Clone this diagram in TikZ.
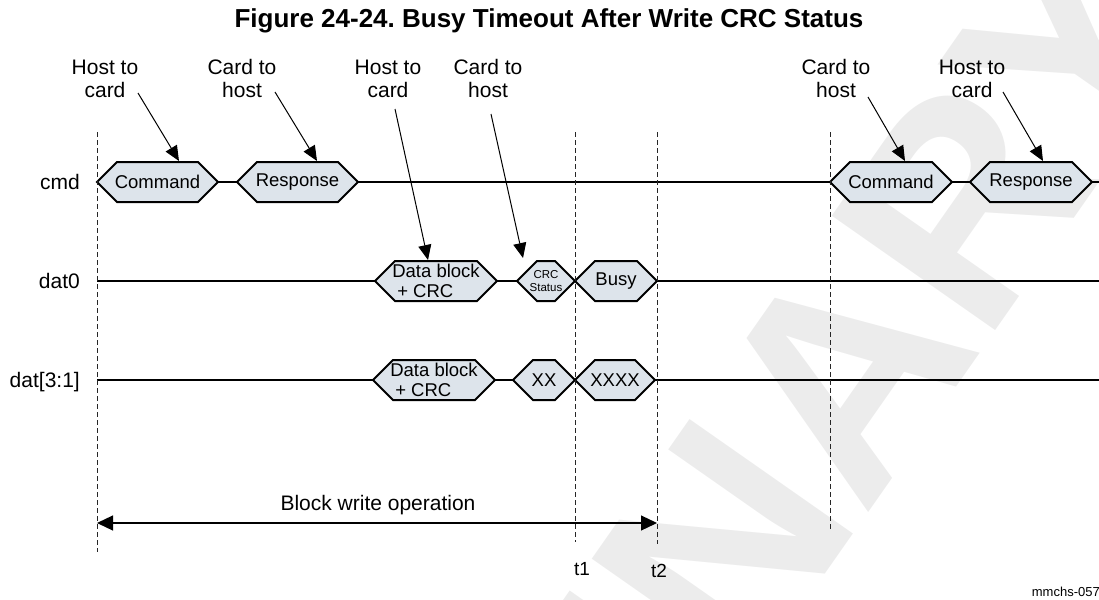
\documentclass[tikz,border=0pt]{standalone}
\usepackage{fontspec}
\setmainfont{Liberation Sans}
\usetikzlibrary{arrows.meta}
\definecolor{hexfill}{RGB}{221,228,235}
\definecolor{wmark}{RGB}{236,236,236}
\newcommand{\fsz}[2]{\fontsize{#1}{#2}\selectfont}
\newcommand{\hexbox}[6]{%
  \filldraw[hexst] (#2,#4) -- (#2+20,#4-20) -- (#3-20,#4-20) -- (#3,#4) -- (#3-20,#4+20) -- (#2+20,#4+20) -- cycle;
  \coordinate (#1-w) at (#2,#4);
  \coordinate (#1-e) at (#3,#4);
  \node[#5] (#1) at ({(#2+#3)/2},#4) {#6};
}
\frenchspacing
\begin{document}
\begin{tikzpicture}[x=1pt,y=-1pt,
  sig/.style={line width=2pt},
  hexst/.style={draw=black, line width=2pt, fill=hexfill, line join=miter},
  boxtxt/.style={font=\fsz{18.5}{20}, inner sep=0pt},
  boxtxtl/.style={font=\fsz{18.5}{20}, inner sep=0pt, align=left},
  smalltxt/.style={font=\fsz{11.5}{13}, inner sep=0pt, align=center},
  lbl/.style={font=\fsz{21}{23}, align=center, inner sep=0pt},
  rowlbl/.style={font=\fsz{21}{23}, inner sep=0pt, anchor=base east},
  ptr/.style={line width=1pt, -{Triangle[length=15pt,width=13pt]}},
  vdash/.style={line width=1pt, dash pattern=on 5pt off 3pt, black!85},
  spanarrow/.style={line width=1.2pt, {Triangle[length=16pt,width=15pt]}-{Triangle[length=16pt,width=15pt]}},
  wm/.style={font=\bfseries\fsz{290}{300}, text=wmark, inner sep=0pt}
]
\useasboundingbox (0,0) rectangle (1099,599);
\clip (0,0) rectangle (1099,599);

% watermark
\node[wm, rotate=55] (wmk) at (558,782) {PRELIMINARY};

% title
\node[font=\bfseries\fsz{26}{30}, inner sep=0pt, anchor=base] (title) at (549,28) {Figure 24-24. Busy Timeout After Write CRC Status};

% row labels
\node[rowlbl] (lcmd) at (80,189.5) {cmd};
\node[rowlbl] (ldat0) at (80,288.5) {dat0};
\node[rowlbl] (ldat3) at (80,387.5) {dat[3:1]};

% hexagons
\hexbox{c1}{97}{218}{182}{boxtxt}{Command}
\hexbox{r1}{237}{358}{182}{boxtxt}{Response}
\hexbox{c2}{830}{952}{182}{boxtxt}{Command}
\hexbox{r2}{970}{1092}{182}{boxtxt}{Response}
\hexbox{db0}{375}{497}{281}{boxtxtl}{Data block\\\hspace*{5pt}+ CRC}
\hexbox{crc}{517}{575}{281}{smalltxt}{CRC\\Status}
\hexbox{busy}{575}{657}{281}{boxtxt}{Busy}
\hexbox{db3}{373}{495}{380}{boxtxtl}{Data block\\\hspace*{5pt}+ CRC}
\hexbox{xx}{513}{575}{380}{boxtxt}{XX}
\hexbox{xxxx}{575}{655}{380}{boxtxt}{XXXX}

% signal line end points
\coordinate (d0s) at (97,281);
\coordinate (d0end) at (1099,281);
\coordinate (d3s) at (97,380);
\coordinate (d3end) at (1099,380);
\coordinate (cend) at (1099,182);

% signal lines
\draw[sig] (c1-e) -- (r1-w);
\draw[sig] (r1-e) -- (c2-w);
\draw[sig] (c2-e) -- (r2-w);
\draw[sig] (r2-e) -- (cend);
\draw[sig] (d0s) -- (db0-w);
\draw[sig] (db0-e) -- (crc-w);
\draw[sig] (busy-e) -- (d0end);
\draw[sig] (d3s) -- (db3-w);
\draw[sig] (db3-e) -- (xx-w);
\draw[sig] (xxxx-e) -- (d3end);

% dashed time markers
\coordinate (v0t) at (97,132);  \coordinate (v0b) at (97,552);
\coordinate (v1t) at (575,132); \coordinate (v1b) at (575,542);
\coordinate (v2t) at (657,132); \coordinate (v2b) at (657,544);
\coordinate (v3t) at (830,132); \coordinate (v3b) at (830,529);
\draw[vdash] (v0t) -- (v0b);
\draw[vdash] (v1t) -- (v1b);
\draw[vdash] (v2t) -- (v2b);
\draw[vdash] (v3t) -- (v3b);

% pointer labels
\node[lbl] (l1) at (105,78.5) {Host to\\card};
\node[lbl] (l2) at (242,78.5) {Card to\\host};
\node[lbl] (l3) at (388,78.5) {Host to\\card};
\node[lbl] (l4) at (488,78.5) {Card to\\host};
\node[lbl] (l5) at (836,78.5) {Card to\\host};
\node[lbl] (l6) at (972,78.5) {Host to\\card};

\coordinate (p1s) at (138,93);   \coordinate (p1t) at (179,161);
\coordinate (p2s) at (275,92);   \coordinate (p2t) at (317,161);
\coordinate (p3s) at (395,109);  \coordinate (p3t) at (428,260);
\coordinate (p4s) at (491,114);  \coordinate (p4t) at (523,258);
\coordinate (p5s) at (868,97);   \coordinate (p5t) at (905,161);
\coordinate (p6s) at (1003,92);  \coordinate (p6t) at (1043,161);
\draw[ptr] (p1s) -- (p1t);
\draw[ptr] (p2s) -- (p2t);
\draw[ptr] (p3s) -- (p3t);
\draw[ptr] (p4s) -- (p4t);
\draw[ptr] (p5s) -- (p5t);
\draw[ptr] (p6s) -- (p6t);

% block write operation
\coordinate (bwl) at (97,523);
\coordinate (bwr) at (657,523);
\draw[spanarrow] (bwl) -- (bwr);
\node[font=\fsz{21}{23}, inner sep=0pt, anchor=base] (bwtxt) at (378,510.5) {Block write operation};

% time labels
\node[font=\fsz{19}{21}, inner sep=0pt, anchor=base] (t1) at (582,575) {t1};
\node[font=\fsz{19}{21}, inner sep=0pt, anchor=base] (t2) at (659,577) {t2};

% figure id
\node[font=\fsz{13}{15}, inner sep=0pt, anchor=base east] (fid) at (1100,596) {mmchs-057};
\end{tikzpicture}
\end{document}
